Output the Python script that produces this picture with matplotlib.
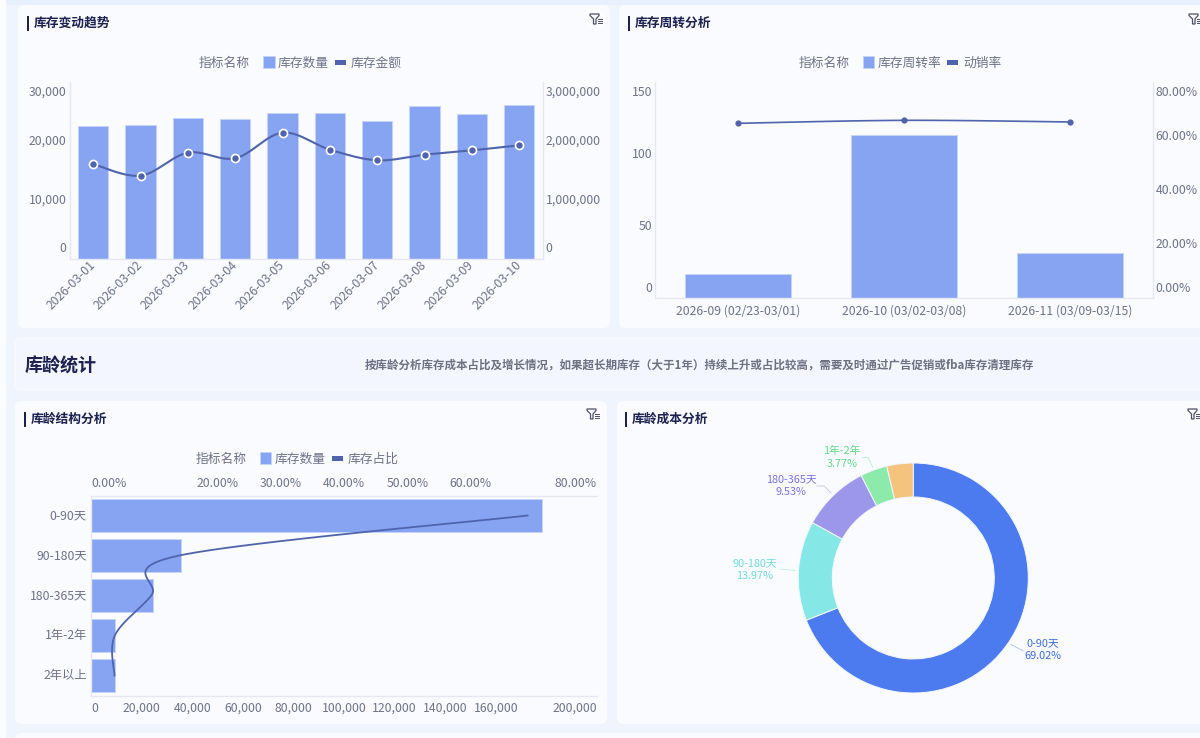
#!/usr/bin/python3
import numpy as np
import matplotlib
matplotlib.use("Agg")
import matplotlib.pyplot as plt
from matplotlib.patches import FancyBboxPatch, Rectangle, Polygon
from matplotlib.transforms import ScaledTranslation

plt.rcParams['font.family'] = ['Noto Sans CJK SC', 'DejaVu Sans']

# 库存变动趋势
trend_dates = ['2026-03-01', '2026-03-02', '2026-03-03', '2026-03-04', '2026-03-05',
               '2026-03-06', '2026-03-07', '2026-03-08', '2026-03-09', '2026-03-10']
trend_qty = [22540, 22710, 23900, 23730, 24800, 24800, 23440, 25880, 24630, 26150]
trend_amount = [1610000, 1412000, 1802000, 1707000, 2141000, 1853000, 1673000, 1768000, 1842000, 1927000]

# 库存周转分析
turn_weeks = ['2026-09 (02/23-03/01)', '2026-10 (03/02-03/08)', '2026-11 (03/09-03/15)']
turn_rate = [16.7, 113, 31]
sell_rate = [64.7, 65.8, 65.2]

# 库龄结构 / 库龄成本
age_names = ['0-90天', '90-180天', '180-365天', '1年-2年', '2年以上']
age_qty = [178300, 35700, 24600, 9300, 9300]
age_share = [69.02, 13.97, 9.53, 3.77, 3.71]

W, H = 1200, 738
BAR = '#87a4f3'
BAR_EDGE = '#c6d4fb'
LINE = '#4f64ad'
TICK = '#6f7389'
AXIS = '#e6e8f1'
DARK = '#1c2150'
PANEL = '#f9fbff'
DONUT = ['#4c7bf0', '#86e7e7', '#9d97ec', '#8cebab', '#f4c47f']
LABEL_C = ['#3f6ce6', '#6fdcdc', '#7a72e6', '#62d98c']
FS = 8.8
FS_CN = 9.2

fig = plt.figure(figsize=(W / 100, H / 100), dpi=100, facecolor='#eff4fd')

# 整张图的像素坐标层，放面板和标题
bg = fig.add_axes([0, 0, 1, 1], zorder=-1)
bg.set_xlim(0, W)
bg.set_ylim(H, 0)
bg.axis('off')
bg.add_patch(Rectangle((0, 0), W, 5, fc='#e7f0fc', ec='none'))
bg.add_patch(Rectangle((0, 0), 6, H, fc='#fbfcff', ec='none'))


def add_ax(left, top, right, bottom):
    ax = fig.add_axes([left / W, 1 - bottom / H, (right - left) / W, (bottom - top) / H])
    ax.patch.set_alpha(0)
    return ax


def panel(x0, y0, x1, y1, color=PANEL, edge='none'):
    bg.add_patch(FancyBboxPatch((x0 + 6, y0 + 6), x1 - x0 - 12, y1 - y0 - 12,
                                boxstyle='round,pad=6,rounding_size=6', fc=color, ec=edge, lw=0.8))


def title(x, y, text):
    bg.add_patch(Rectangle((x, y - 7.5), 1.6, 15, fc=DARK, ec='none'))
    bg.text(x + 7, y + 0.5, text, fontsize=FS_CN, fontweight='bold', color=DARK, va='center')


def funnel(x, y):
    bg.add_patch(Rectangle((x - 8, y - 8), 16, 17, fc='#fdfdff', ec='none'))
    bg.add_patch(Polygon([(x - 6, y - 5), (x + 3, y - 5), (x + 3, y - 3.5), (x, y), (x, y + 5), (x - 2.5, y + 5),
                          (x - 2.5, y), (x - 6, y - 3.5)],
                         closed=True, fc='none', ec='#4a4f6a', lw=0.9))
    for dy in (0, 2.2, 4.4):
        bg.plot([x + 2, x + 6], [y + dy, y + dy], color='#4a4f6a', lw=0.7)


def legend(y, x_head, x_box, x_n1, x_dash, x_n2, n1, n2):
    bg.text(x_head, y + 1, '指标名称', fontsize=FS_CN, color=TICK, va='center')
    bg.add_patch(Rectangle((x_box, y - 6), 11.5, 12, fc=BAR, ec=BAR_EDGE, lw=0.5))
    bg.text(x_n1, y + 1, n1, fontsize=FS_CN, color=TICK, va='center')
    bg.add_patch(Rectangle((x_dash, y - 2.5), 11, 5, fc=LINE, ec='none'))
    bg.text(x_n2, y + 1, n2, fontsize=FS_CN, color=TICK, va='center')


def smooth(xs, ys, n=30):
    # Catmull-Rom 曲线，只用来画线，数据点不变
    p = np.column_stack([xs, ys]).astype(float)
    ext = np.vstack([p[0], p, p[-1]])
    out = []
    for i in range(1, len(ext) - 2):
        m0 = (ext[i + 1] - ext[i - 1]) / 2
        m1 = (ext[i + 2] - ext[i]) / 2
        for t in np.linspace(0, 1, n):
            h00 = 2 * t**3 - 3 * t**2 + 1
            h10 = t**3 - 2 * t**2 + t
            h01 = -2 * t**3 + 3 * t**2
            h11 = t**3 - t**2
            out.append(h00 * ext[i] + h10 * m0 + h01 * ext[i + 1] + h11 * m1)
    out = np.array(out)
    return out[:, 0], out[:, 1]


def nudge(label, dy=0):
    label.set_transform(label.get_transform() + ScaledTranslation(0, dy / 100, fig.dpi_scale_trans))


def style_axis(ax, spines):
    for name, sp in ax.spines.items():
        sp.set_visible(name in spines)
        sp.set_color(AXIS)
        sp.set_linewidth(1.0)
    ax.tick_params(length=0, labelsize=FS, labelcolor=TICK, pad=2)


def combo(box, cats, bars, line, yticks, ylabels, yticks2, ylabels2, marker_size, marker_edge, lw):
    ax = add_ax(*box)
    x = np.arange(len(cats))
    ax.bar(x, bars, width=0.64, color=BAR, edgecolor=BAR_EDGE, linewidth=0.7)
    ax.set_xlim(-0.5, len(cats) - 0.5)
    ax.set_ylim(yticks[0], yticks[-1])
    style_axis(ax, ['left', 'bottom'])
    ax.set_yticks(yticks, ylabels)
    ax2 = ax.twinx()
    ax2.patch.set_alpha(0)
    sx, sy = smooth(x, line)
    ax2.plot(sx, sy, color=LINE, lw=lw)
    ax2.plot(x, line, ls='none', marker='o', ms=marker_size, mfc=LINE, mec='white' if marker_edge else LINE,
             mew=marker_edge)
    ax2.set_ylim(yticks2[0], yticks2[-1])
    style_axis(ax2, ['right'])
    ax2.set_yticks(yticks2, ylabels2)
    for a in (ax, ax2):
        labs = a.get_yticklabels()
        for lab in labs:
            nudge(lab, 1.5)
        nudge(labs[0], 10)
        nudge(labs[-1], -10.5)
    return ax


# 面板
panel(18, 5, 610, 328)
panel(619, 5, 1215, 328)
panel(15, 338, 1215, 390, '#f3f6fe', '#f9fbff')
panel(15, 401, 607, 724)
panel(617, 401, 1215, 724)
panel(15, 733, 1215, 760)

title(27, 23, '库存变动趋势')
title(628, 23, '库存周转分析')
title(24, 419, '库龄结构分析')
title(625, 419, '库龄成本分析')
for fx, fy in [(596, 19), (1195, 19), (593, 414), (1194, 414)]:
    funnel(fx, fy)

bg.text(25, 366, '库龄统计', fontsize=13, fontweight='bold', color=DARK, va='center')
bg.text(365, 365, '按库龄分析库存成本占比及增长情况，如果超长期库存（大于1年）持续上升或占比较高，'
        '需要及时通过广告促销或fba库存清理库存', fontsize=8.3, fontweight='bold', color='#6d7080', va='center')

legend(62, 199, 263, 278, 335, 351, '库存数量', '库存金额')
legend(62, 799, 862.5, 878, 947, 963, '库存周转率', '动销率')
legend(458, 196, 259.5, 275, 332, 348, '库存数量', '库存占比')

# 库存变动趋势
ax_a = combo((69.5, 82, 543, 259), trend_dates, trend_qty, trend_amount,
             [0, 10000, 20000, 30000], ['0', '10,000', '20,000', '30,000'],
             [0, 1000000, 2000000, 3000000], ['0', '1,000,000', '2,000,000', '3,000,000'], 5.8, 1.2, 1.5)
ax_a.set_xticks(range(len(trend_dates)))
ax_a.set_xticklabels(trend_dates, rotation=45, ha='right', va='center', rotation_mode='anchor')
ax_a.tick_params(axis='x', pad=3)

# 库存周转分析
ax_b = combo((655, 82, 1153, 298), turn_weeks, turn_rate, sell_rate,
             [0, 50, 100, 150], ['0', '50', '100', '150'],
             [0, 20, 40, 60, 80], ['0.00%', '20.00%', '40.00%', '60.00%', '80.00%'], 4.5, 0, 1.2)
ax_b.set_xticks(range(len(turn_weeks)))
ax_b.set_xticklabels(turn_weeks)
ax_b.tick_params(axis='x', pad=5)

# 库龄结构分析
ax_c = add_ax(91, 495.5, 597, 695.5)
rows = np.arange(len(age_names))
ax_c.barh(rows, age_qty, height=0.83, color=BAR, edgecolor=BAR_EDGE, linewidth=0.7)
ax_c.set_ylim(len(age_names) - 0.5, -0.5)
ax_c.set_xlim(0, 200000)
style_axis(ax_c, ['bottom', 'left'])
ax_c.tick_params(axis='y', pad=3)
ax_c.set_yticks(rows, age_names)
for lab in ax_c.get_yticklabels():
    nudge(lab, 1)
qty_ticks = [0, 20000, 40000, 60000, 80000, 100000, 120000, 140000, 160000, 200000]
ax_c.set_xticks(qty_ticks, [f'{v:,}' for v in qty_ticks])
ax_c.tick_params(axis='x', pad=4.5)
ax_c.get_xticklabels()[0].set_ha('left')
ax_c.get_xticklabels()[-1].set_ha('right')
ax_c2 = ax_c.twiny()
ax_c2.patch.set_alpha(0)
lx, ly = smooth(age_share, rows)
ax_c2.plot(lx, ly, color=LINE, lw=1.3)
ax_c2.set_xlim(0, 80)
style_axis(ax_c2, ['top'])
share_ticks = [0, 20, 30, 40, 50, 60, 80]
ax_c2.set_xticks(share_ticks, [f'{v:.2f}%' for v in share_ticks])
ax_c2.tick_params(axis='x', pad=4)
ax_c2.get_xticklabels()[0].set_ha('left')
ax_c2.get_xticklabels()[-1].set_ha('right')

# 库龄成本分析
cx, cy, r_out, r_in = 913.3, 578, 115, 81
ax_d = add_ax(cx - 120, cy - 120, cx + 120, cy + 120)
ax_d.pie(age_share, colors=DONUT, startangle=90, counterclock=False, radius=r_out,
         wedgeprops=dict(width=r_out - r_in, edgecolor='#f3f6ff', linewidth=0.7))
ax_d.set_xlim(-120, 120)
ax_d.set_ylim(-120, 120)

# 标签位置和引线折点（像素）
label_xy = [(1043, 649.5), (755, 569.5), (791, 485.5), (841.7, 457.5)]
elbow_xy = [(1023, 650.7), (780, 569), (824.3, 486), (868.3, 457.7)]
tail_x = [1023, 780, 816.7, 862.3]
angle = 0
for i in range(4):
    mid = np.radians(angle + age_share[i] / 100 * 360 / 2)
    angle += age_share[i] / 100 * 360
    sx0, sy0 = cx + (r_out + 3) * np.sin(mid), cy - (r_out + 3) * np.cos(mid)
    bg.plot([sx0, elbow_xy[i][0], tail_x[i]], [sy0, elbow_xy[i][1], elbow_xy[i][1]],
            color=LABEL_C[i], lw=0.5, alpha=0.5)
    bg.text(label_xy[i][0], label_xy[i][1], f'{age_names[i]}\n{age_share[i]:.2f}%', fontsize=7.8,
            color=LABEL_C[i], ha='center', va='center', linespacing=1.3)

fig.savefig('out.png', dpi=100)
